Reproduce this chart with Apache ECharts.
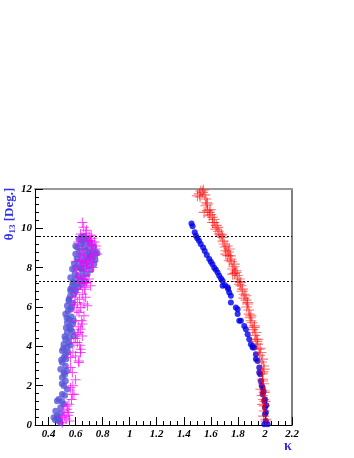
<!DOCTYPE html>
<html lang="en">
<head>
    <meta charset="UTF-8">
    <script src="https://cdn.jsdelivr.net/npm/echarts@6/dist/echarts.min.js"></script>
    <title>theta13 vs kappa</title>
    <style>
        body { margin: 0; background: #fff; }
    </style>
</head>
<body>
    <div id="chart" style="width: 354px;height:458px;"></div>
<script type="text/javascript">
    // tick labels
    var xTickValues = [0.4, 0.6, 0.8, 1, 1.2, 1.4, 1.6, 1.8, 2, 2.2];
    var dashedLevels = [9.6, 7.3];

    // left cluster, slate blue dots [kappa, theta13]
    var leftDots = [
        [0.464,0.37],[0.476,0.29],[0.489,0.12],[0.452,0.71],[0.439,0.38],[0.464,0.46],[0.489,0.89],
        [0.513,1.05],[0.476,1.31],[0.464,1.22],[0.501,1.56],[0.538,1.82],[0.513,1.99],[0.476,0.20],
        [0.450,0.25],[0.490,0.60],[0.500,1.20],[0.520,1.50],
        [0.526,2.24],[0.501,2.41],[0.513,2.67],[0.489,2.84],[0.526,3.00],[0.501,3.18],[0.513,3.43],
        [0.500,2.10],[0.520,2.55],[0.535,2.75],[0.495,3.30],[0.530,3.35],
        [0.526,3.60],[0.501,3.77],[0.538,3.94],[0.513,4.11],[0.551,4.20],[0.526,4.36],[0.588,4.53],
        [0.538,4.70],[0.563,4.87],[0.510,3.90],[0.545,3.70],[0.520,4.50],[0.555,4.45],[0.530,4.95],
        [0.575,4.75],[0.560,4.05],
        [0.576,5.13],[0.538,5.21],[0.551,5.38],[0.526,5.64],[0.563,5.89],[0.538,6.06],[0.551,6.40],
        [0.588,6.65],[0.563,6.82],[0.600,6.82],[0.563,6.91],[0.576,7.08],[0.555,5.00],[0.570,5.50],
        [0.545,5.80],[0.580,6.20],[0.560,6.55],[0.585,5.30],[0.535,5.45],[0.570,6.00],[0.590,6.90],
        [0.550,6.30],
        [0.637,7.33],[0.600,7.42],[0.563,7.50],[0.687,7.67],[0.650,7.84],[0.576,7.93],[0.600,8.01],
        [0.624,8.27],[0.662,8.35],[0.736,8.18],[0.699,8.52],[0.748,8.69],[0.724,8.78],[0.674,8.86],
        [0.613,9.03],[0.637,9.20],[0.624,9.46],[0.610,7.20],[0.580,7.25],[0.620,7.60],[0.595,7.70],
        [0.640,7.95],[0.670,8.00],[0.700,8.10],[0.610,8.45],[0.640,8.60],[0.680,8.60],[0.720,8.45],
        [0.760,8.75],[0.660,9.05],[0.700,9.00],[0.735,9.05],[0.650,9.35],[0.680,9.30],[0.710,9.25],
        [0.640,9.55],[0.660,9.60],[0.690,9.45],[0.600,8.70],[0.590,8.20],[0.630,8.00],[0.655,7.55],
        [0.675,7.30],[0.620,7.00],[0.645,7.15],[0.715,7.90],[0.745,8.40],[0.705,8.75],[0.630,8.85],
        [0.600,9.10],[0.655,8.20],[0.690,8.30],[0.715,8.60],[0.665,9.45]
    ];

    // left cluster, magenta crosses
    var leftCrosses = [
        [0.650,10.30],[0.637,9.71],[0.711,9.37],[0.748,8.95],[0.761,8.69],[0.687,8.35],[0.724,8.01],
        [0.662,7.59],[0.699,7.42],[0.711,7.08],[0.613,6.91],[0.674,6.49],[0.637,5.98],[0.662,5.55],
        [0.650,5.13],[0.624,4.70],[0.613,4.20],[0.637,3.69],[0.624,3.18],[0.576,2.67],[0.563,1.90],
        [0.588,1.56],[0.538,0.97],[0.551,0.63],
        [0.600,6.74],[0.650,6.65],[0.613,6.23],[0.662,6.15],[0.687,6.06],[0.625,5.72],[0.600,5.30],
        [0.637,4.87],[0.613,4.62],[0.650,4.53],[0.588,4.20],[0.637,3.85],[0.600,3.51],[0.563,3.43],
        [0.624,3.26],[0.576,1.56],[0.551,1.05],[0.538,0.80],[0.513,0.71],[0.501,0.38],[0.501,0.12],
        [0.563,2.92],[0.530,0.30],[0.545,0.50],
        [0.680,9.90],[0.660,9.50],[0.700,9.60],[0.720,9.20],[0.690,9.10],[0.655,8.90],[0.740,9.30],
        [0.630,8.70],[0.670,8.60],[0.710,8.50],[0.650,8.10],[0.690,7.80],[0.620,7.50],[0.640,7.20],
        [0.670,7.00],[0.600,8.30],[0.730,8.90],[0.750,9.10],[0.660,8.35],[0.700,8.25],[0.620,9.30],
        [0.680,7.25],[0.595,6.50],[0.605,7.90],[0.715,9.65],
        [0.590,6.10],[0.630,6.40],[0.610,5.80],[0.645,5.30],[0.620,5.00],[0.600,4.40],[0.630,4.05],
        [0.580,3.70],[0.600,2.30],[0.580,2.00],[0.570,1.30],[0.555,0.20],[0.520,0.45],[0.665,6.90],
        [0.655,7.40],[0.730,8.30],[0.745,8.65],[0.700,9.35],[0.660,10.05],[0.675,9.75],[0.720,9.50],
        [0.635,8.40],[0.680,8.05]
    ];

    // right branch, blue dots
    var rightDots = [
        [1.457,10.25],[1.465,10.10],[1.481,9.80],[1.490,9.62],[1.500,9.50],[1.513,9.37],[1.525,9.20],
        [1.543,9.03],[1.555,8.85],[1.570,8.65],[1.588,8.44],[1.600,8.30],[1.612,8.18],[1.625,8.00],
        [1.637,7.89],[1.650,7.76],[1.662,7.59],[1.675,7.45],[1.687,7.33],[1.687,7.08],[1.705,7.10],
        [1.724,7.00],[1.728,6.91],[1.736,6.74],[1.748,6.57],[1.748,6.23],[1.785,5.98],[1.798,5.89],
        [1.798,5.64],[1.810,5.30],[1.822,5.30],[1.847,5.04],[1.859,4.87],[1.872,4.62],[1.884,4.36],
        [1.896,4.11],[1.909,4.02],[1.909,3.94],[1.921,3.94],[1.933,3.60],[1.933,3.35],[1.946,3.26],
        [1.958,2.92],[1.958,2.67],[1.965,2.58],[1.970,2.24],[1.976,1.99],[1.983,1.90],[1.983,1.56],
        [2.000,1.31],[1.995,1.22],[2.000,0.89],[2.007,0.63],[2.000,0.55],[2.007,0.20],[2.020,0.04],
        [1.995,0.04],[2.010,1.00],[1.990,1.70]
    ];

    // right branch, red crosses
    var rightCrosses = [
        [1.526,11.90],[1.538,11.83],[1.501,11.66],[1.515,11.75],[1.545,11.95],[1.563,11.49],[1.575,11.24],
        [1.563,11.15],[1.588,10.81],[1.575,10.90],[1.550,10.81],[1.612,10.56],[1.588,10.64],[1.624,10.30],
        [1.612,10.30],[1.650,10.05],[1.637,9.96],[1.662,9.71],[1.674,9.62],[1.687,9.54],[1.699,9.20],
        [1.711,8.86],[1.736,8.95],[1.724,8.61],[1.711,8.69],[1.736,8.35],[1.748,8.44],[1.773,8.18],
        [1.761,7.93],[1.785,7.84],[1.761,7.67],[1.785,7.76],[1.810,7.42],[1.810,7.16],[1.822,7.08],
        [1.835,6.91],[1.847,6.65],[1.859,6.57],[1.872,6.23],[1.872,6.15],[1.884,5.64],[1.896,5.55],
        [1.896,5.30],[1.921,5.04],[1.921,4.96],[1.933,4.70],[1.933,4.36],[1.946,4.36],[1.946,4.11],
        [1.970,3.69],[1.983,3.35],[1.990,3.00],[1.995,2.84],[1.983,2.33],[1.983,2.24],[1.970,1.82],
        [1.995,1.73],[1.995,1.65],[1.983,1.05],[1.995,0.97],[1.995,0.71],[2.007,0.29],[2.007,0.20],
        [1.990,1.30],[1.980,2.60],[1.965,3.90],
        [1.520,11.60],[1.555,11.70],[1.570,11.30],[1.595,10.95],[1.600,10.70],[1.625,10.45],[1.640,10.15],
        [1.655,9.85],[1.680,9.70],[1.690,9.35],[1.705,9.05],[1.720,9.10],[1.730,8.80],[1.745,8.60],
        [1.755,8.30],[1.770,8.05],[1.775,7.70],[1.795,7.60],[1.800,7.30],[1.820,7.25],[1.830,6.80],
        [1.845,6.45],[1.860,6.35],[1.865,6.00],[1.880,5.85],[1.890,5.45],[1.905,5.20],[1.910,4.85],
        [1.925,4.55],[1.940,4.25],[1.955,3.85],[1.960,3.55],[1.975,3.20],[1.985,2.70],[1.990,2.10],
        [1.980,1.50],[2.000,1.20],[1.990,0.45]
    ];

    var plusPath = 'path://M4.5,0H5.5V4.5H10V5.5H5.5V10H4.5V5.5H0V4.5H4.5Z';
    var labelFont = {
        fontFamily: 'Liberation Serif',
        fontWeight: 'bold',
        fontStyle: 'italic',
        fontSize: 11,
        color: '#000'
    };

    var chart = echarts.init(document.getElementById('chart'));
    chart.setOption({
        animation: false,
        backgroundColor: '#fff',
        grid: { left: 35, top: 189, right: 62, bottom: 33 },
        xAxis: [
            {
                type: 'value', min: 0.3, max: 2.2, position: 'bottom',
                axisLine: { lineStyle: { color: '#000', width: 1 } },
                axisTick: { inside: true, length: 8, customValues: xTickValues, lineStyle: { color: '#000' } },
                axisLabel: Object.assign({ customValues: xTickValues, margin: 4 }, labelFont),
                splitLine: { show: false }
            },
            {   // minor ticks
                type: 'value', min: 0.3, max: 2.2, interval: 0.05, position: 'bottom',
                axisLine: { show: false },
                axisTick: { inside: true, length: 4, lineStyle: { color: '#000' } },
                axisLabel: { show: false },
                splitLine: { show: false }
            },
            {   // top frame
                type: 'value', min: 0.3, max: 2.2, position: 'top',
                axisLine: { lineStyle: { color: '#999', width: 2 } },
                axisTick: { show: false }, axisLabel: { show: false }, splitLine: { show: false }
            }
        ],
        yAxis: [
            {
                type: 'value', min: 0, max: 12, interval: 2, position: 'left',
                axisLine: { show: true, lineStyle: { color: '#000', width: 1 } },
                axisTick: { show: true, inside: true, length: 8, lineStyle: { color: '#000' } },
                minorTick: { show: true, splitNumber: 5, length: 4, lineStyle: { color: '#000' } },
                axisLabel: Object.assign({ margin: 3 }, labelFont),
                splitLine: { show: false }
            },
            {   // right frame
                type: 'value', min: 0, max: 12, position: 'right',
                axisLine: { show: true, lineStyle: { color: '#555', width: 1.5 } },
                axisTick: { show: false }, axisLabel: { show: false }, splitLine: { show: false }
            }
        ],
        graphic: [
            {
                type: 'text', x: 10, y: 214, rotation: Math.PI / 2,
                style: {
                    text: '{t|θ}{s|13}{t| [Deg.]}',
                    textAlign: 'center', textVerticalAlign: 'middle',
                    rich: {
                        t: { fontFamily: 'Liberation Serif', fontWeight: 'bold', fontSize: 13, fill: '#3030e8' },
                        s: { fontFamily: 'Liberation Serif', fontWeight: 'bold', fontSize: 9, fill: '#3030e8', padding: [6, 0, 0, 0] }
                    }
                }
            },
            {
                type: 'text', x: 288, y: 446,
                style: {
                    text: 'κ', textAlign: 'center', textVerticalAlign: 'middle',
                    fontFamily: 'Liberation Serif', fontWeight: 'bold', fontSize: 14, fill: '#3030e8'
                }
            }
        ],
        series: [
            {
                name: 'left dots', type: 'scatter', data: leftDots,
                symbol: 'circle', symbolSize: 6.5,
                itemStyle: { color: '#5656d8' },
                markLine: {
                    silent: true, symbol: 'none',
                    label: { show: false },
                    lineStyle: { color: '#000', type: [2, 2], width: 1 },
                    data: dashedLevels.map(function (v) { return { yAxis: v }; })
                }
            },
            {
                name: 'left crosses', type: 'scatter', data: leftCrosses,
                symbol: plusPath, symbolSize: 10,
                itemStyle: { color: '#ff00ff', opacity: 0.75 }
            },
            {
                name: 'right dots', type: 'scatter', data: rightDots,
                symbol: 'circle', symbolSize: 6,
                itemStyle: { color: '#0000ee' }
            },
            {
                name: 'right crosses', type: 'scatter', data: rightCrosses,
                symbol: plusPath, symbolSize: 11,
                itemStyle: { color: '#ff0000', opacity: 0.55 }
            }
        ]
    });
</script>
</body>
</html>
